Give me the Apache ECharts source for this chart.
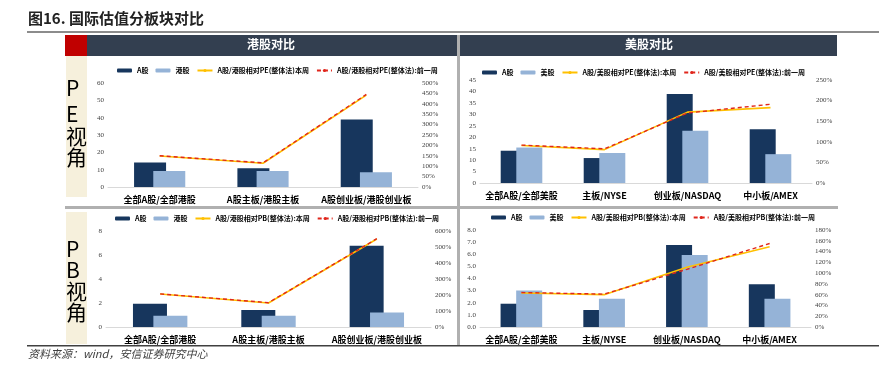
<!DOCTYPE html>
<html>
<head>
<meta charset="utf-8">
<script src="https://cdn.jsdelivr.net/npm/echarts@6/dist/echarts.min.js"></script>
<style>
  html, body { margin: 0; padding: 0; background: #fff; }
  #main { width: 879px; height: 368px; }
</style>
</head>
<body>
<div id="main"></div>
<script>
// categories
var hkCats = ['全部A股/全部港股', 'A股主板/港股主板', 'A股创业板/港股创业板'];
var usCats = ['全部A股/全部美股', '主板/NYSE', '创业板/NASDAQ', '中小板/AMEX'];

// PE - HK
var peHkA = [14.2, 10.8, 39.0];
var peHkH = [9.2, 9.2, 8.5];
var peHkNow = [149, 114, 442];
var peHkPrev = [150, 116, 445];

// PE - US
var peUsA = [14.1, 10.9, 38.9, 23.5];
var peUsU = [15.5, 13.1, 22.8, 12.6];
var peUsNow = [91, 81, 172, 183];
var peUsPrev = [92, 83, 170, 191];

// PB - HK
var pbHkA = [1.94, 1.41, 6.78];
var pbHkH = [0.94, 0.94, 1.21];
var pbHkNow = [206, 150, 550];
var pbHkPrev = [207, 152, 552];

// PB - US
var pbUsA = [1.92, 1.40, 6.77, 3.53];
var pbUsU = [3.02, 2.33, 5.94, 2.33];
var pbUsNow = [63, 60, 111, 149];
var pbUsPrev = [64, 61, 107, 155];

var NAVY = '#17365d';
var LIGHT = '#95b3d7';
var GOLD = '#ffc000';
var RED = '#e0261c';
var CJK = '"Noto Sans CJK SC", sans-serif';
var SERIF = '"Liberation Serif", "DejaVu Serif", serif';

var chartDom = document.getElementById('main');
var myChart = echarts.init(chartDom);

var grids = [
  { left: 108, right: 461, top: 83, bottom: 181 },
  { left: 480, right: 67, top: 80, bottom: 185 },
  { left: 106, right: 448, top: 231, bottom: 41 },
  { left: 480, right: 68, top: 230, bottom: 41 }
];

var panels = [
  { cats: hkCats, a: peHkA, b: peHkH, now: peHkNow, prev: peHkPrev, bName: '港股',
    nowName: 'A股/港股相对PE(整体法)本周', prevName: 'A股/港股相对PE(整体法):前一周',
    lMax: 60, lInt: 10, rMax: 500, rInt: 50, dec: 0, bw: 32, legendLeft: 117, legendTop: 67 },
  { cats: usCats, a: peUsA, b: peUsU, now: peUsNow, prev: peUsPrev, bName: '美股',
    nowName: 'A股/美股相对PE(整体法):本周', prevName: 'A股/美股相对PE(整体法):前一周',
    lMax: 45, lInt: 5, rMax: 250, rInt: 50, dec: 0, bw: 26, legendLeft: 482, legendTop: 69 },
  { cats: hkCats, a: pbHkA, b: pbHkH, now: pbHkNow, prev: pbHkPrev, bName: '港股',
    nowName: 'A股/港股相对PB(整体法):本周', prevName: 'A股/港股相对PB(整体法):前一周',
    lMax: 8, lInt: 2, rMax: 600, rInt: 100, dec: 0, bw: 34, legendLeft: 115, legendTop: 215 },
  { cats: usCats, a: pbUsA, b: pbUsU, now: pbUsNow, prev: pbUsPrev, bName: '美股',
    nowName: 'A股/美股相对PB(整体法):本周', prevName: 'A股/美股相对PB(整体法):前一周',
    lMax: 8, lInt: 1, rMax: 180, rInt: 20, dec: 1, bw: 26, legendLeft: 491, legendTop: 214 }
];

var xAxes = [], yAxes = [], series = [], legends = [];
panels.forEach(function (p, i) {
  xAxes.push({
    type: 'category', gridIndex: i, data: p.cats,
    axisLine: { lineStyle: { color: '#d9d9d9' } },
    axisTick: { show: false },
    axisLabel: { interval: 0, color: '#000', fontSize: 9, fontWeight: 'bold', fontFamily: CJK, margin: 8 }
  });
  yAxes.push({
    type: 'value', gridIndex: i, min: 0, max: p.lMax, interval: p.lInt,
    splitLine: { show: false }, axisLine: { show: false }, axisTick: { show: false },
    axisLabel: {
      color: '#404040', fontSize: 7, fontFamily: SERIF, margin: 4,
      formatter: function (v) { return v.toFixed(p.dec); }
    }
  });
  yAxes.push({
    type: 'value', gridIndex: i, position: 'right', min: 0, max: p.rMax, interval: p.rInt,
    splitLine: { show: false }, axisLine: { show: false }, axisTick: { show: false },
    axisLabel: { color: '#404040', fontSize: 7, fontFamily: SERIF, margin: 4, formatter: '{value}%' }
  });
  series.push({
    name: 'A股', type: 'bar', xAxisIndex: i, yAxisIndex: 2 * i, data: p.a,
    barWidth: p.bw, barGap: '-40%', itemStyle: { color: NAVY }
  });
  series.push({
    name: p.bName, type: 'bar', xAxisIndex: i, yAxisIndex: 2 * i, data: p.b,
    barWidth: p.bw, barGap: '-40%', itemStyle: { color: LIGHT }
  });
  series.push({
    name: p.nowName, type: 'line', xAxisIndex: i, yAxisIndex: 2 * i + 1, data: p.now,
    symbol: 'none', lineStyle: { color: GOLD, width: 1.6 }, itemStyle: { color: GOLD }, z: 3
  });
  series.push({
    name: p.prevName, type: 'line', xAxisIndex: i, yAxisIndex: 2 * i + 1, data: p.prev,
    symbol: 'none', lineStyle: { color: RED, width: 1.4, type: [4, 3] }, itemStyle: { color: RED }, z: 4
  });
  legends.push({
    left: p.legendLeft, top: p.legendTop, padding: 0,
    data: ['A股', p.bName, p.nowName, p.prevName],
    itemWidth: 15, itemHeight: 4, itemGap: 7,
    textStyle: { fontSize: 7, fontWeight: 'bold', fontFamily: CJK, color: '#000' }
  });
});

function sideText(chars, x, ys) {
  return chars.map(function (c, k) {
    return {
      type: 'text', left: x, top: ys[k],
      style: { text: c, font: '21px ' + CJK, fill: '#000', textAlign: 'center' }
    };
  });
}

var graphics = [
  { type: 'text', left: 28, top: 11, style: { text: '图16. 国际估值分板块对比', font: 'bold 15px ' + CJK, fill: '#222' } },
  { type: 'rect', shape: { x: 27, y: 31, width: 852, height: 2 }, style: { fill: '#8c8c8c' } },
  { type: 'rect', shape: { x: 65, y: 35, width: 22, height: 21 }, style: { fill: '#c00000' } },
  { type: 'rect', shape: { x: 87, y: 35, width: 370, height: 21 }, style: { fill: '#333f50' } },
  { type: 'rect', shape: { x: 460, y: 35, width: 377, height: 21 }, style: { fill: '#333f50' } },
  { type: 'rect', shape: { x: 457, y: 35, width: 3, height: 310 }, style: { fill: '#b0b0b0' } },
  { type: 'rect', shape: { x: 65, y: 206, width: 773, height: 3 }, style: { fill: '#b0b0b0' } },
  { type: 'rect', shape: { x: 66, y: 56, width: 21, height: 141 }, style: { fill: '#f6f0dc' } },
  { type: 'rect', shape: { x: 66, y: 212, width: 21, height: 132 }, style: { fill: '#f6f0dc' } },
  { type: 'text', left: 247, top: 38, style: { text: '港股对比', font: 'bold 12px ' + CJK, fill: '#fff' } },
  { type: 'text', left: 625, top: 38, style: { text: '美股对比', font: 'bold 12px ' + CJK, fill: '#fff' } },
  { type: 'rect', shape: { x: 27, y: 345, width: 852, height: 1.5 }, style: { fill: '#404040' } },
  { type: 'text', left: 28, top: 348, style: { text: '资料来源：wind，安信证券研究中心', font: 'italic 11px ' + CJK, fill: '#404040' } }
].concat(sideText(['P', 'E', '视', '角'], 66, [78, 104, 126, 147]))
 .concat(sideText(['P', 'B', '视', '角'], 66, [239, 260, 281, 302]));

var option = {
  animation: false,
  grid: grids,
  xAxis: xAxes,
  yAxis: yAxes,
  legend: legends,
  series: series,
  graphic: graphics
};

option && myChart.setOption(option);
</script>
</body>
</html>
